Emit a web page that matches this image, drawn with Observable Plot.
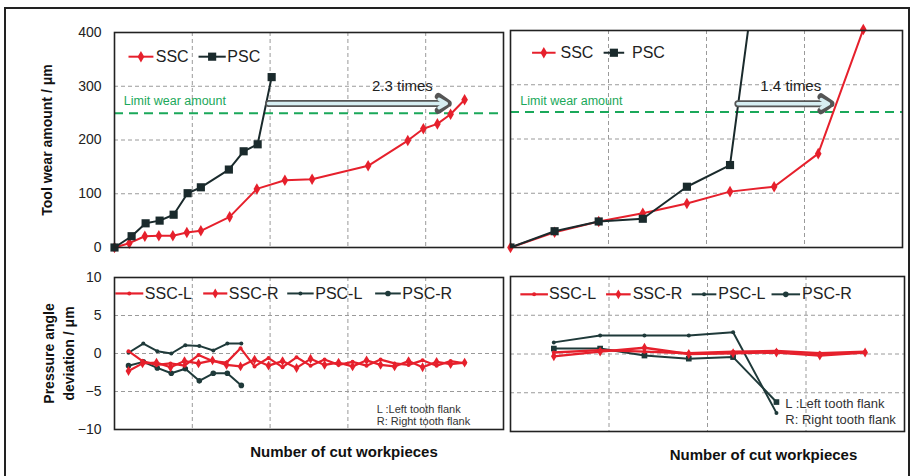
<!DOCTYPE html>
<html><head><meta charset="utf-8">
<script src="https://cdn.jsdelivr.net/npm/d3@7"></script>
<script src="https://cdn.jsdelivr.net/npm/@observablehq/plot@0.6"></script>
<style>
body{margin:0;background:#fff;}
#wrap{position:relative;width:913px;height:476px;overflow:hidden;background:#fff;font-family:"Liberation Sans",Arial,sans-serif;}
#wrap svg{position:absolute;overflow:visible;}
#outer{position:absolute;left:4px;top:7px;width:902px;height:480px;border:2px solid #222;}
</style></head><body><div id="wrap"><div id="outer"></div></div>
<script>
// ---------- data ----------
const topSeries = ["SSC", "PSC"];
const bottomSeries = ["SSC-L", "SSC-R", "PSC-L", "PSC-R"];
const wearTicks = [0, 100, 200, 300, 400];
const devTicks = [-10, -5, 0, 5, 10];
const limitWear = 250;
const limitLabel = "Limit wear amount";
const leftRatio = "2.3 times";
const rightRatio = "1.4 times";
const yLabelTop = "Tool wear amount / μm";
const yLabelBottom = "Pressure angle\ndeviation / μm";
const xLabel = "Number of cut workpieces";
const flankNotes = ["L :Left tooth flank", "R: Right tooth flank"];

// top-left (wear)
const tlSSCx = [0, 1.9, 3.9, 5.7, 7.5, 9.3, 11.1, 14.8, 18.3, 21.9, 25.4, 32.6, 37.7, 39.7, 41.5, 43.2, 45.0];
const tlSSCy = [0, 8, 21, 22, 22, 28, 31, 57, 109, 125, 127, 152, 199, 221, 230, 248, 275];
const tlPSCx = [0, 2.2, 4.0, 5.8, 7.6, 9.4, 11.1, 14.7, 16.6, 18.4, 20.2];
const tlPSCy = [0, 21, 45, 50, 61, 101, 112, 145, 179, 192, 317];

// top-right (wear)
const trSSCx = [0, 4.5, 9.0, 13.5, 18.0, 22.4, 26.9, 31.4, 36.0];
const trSSCy = [0, 28, 48, 63, 81, 103, 112, 173, 402];
const trPSCx = [0, 4.5, 9.0, 13.5, 18.0, 22.4, 26.9];
const trPSCy = [0, 30, 48, 53, 112, 152, 760];

// bottom-left (pressure angle deviation)
const blSSCx = [1.8, 3.6, 5.4, 7.2, 9.0, 10.8, 12.6, 14.4, 16.2, 18.0, 19.8, 21.6, 23.4, 25.2, 27.0, 28.8, 30.6, 32.4, 34.2, 36.0, 37.8, 39.6, 41.4, 43.2, 45.0];
const blSSCL = [0.3, -1.0, -1.5, -1.3, -1.6, -0.2, -1.0, -1.2, 0.7, -1.7, -0.6, -1.8, -0.5, -1.6, -0.8, -1.5, -1.1, -1.6, -0.8, -1.3, -1.5, -0.9, -1.6, -1.0, -1.3];
const blSSCR = [-2.3, -1.3, -1.2, -1.8, -1.0, -1.3, -0.9, -1.5, -1.7, -0.8, -1.6, -1.0, -1.9, -0.7, -1.5, -1.2, -1.7, -0.9, -1.5, -1.7, -1.0, -1.8, -1.1, -1.4, -1.2];
const blPSCx = [1.8, 3.7, 5.5, 7.3, 9.1, 10.9, 12.7, 14.5, 16.3];
const blPSCL = [0.1, 1.3, 0.3, 0.0, 1.1, 1.0, 0.4, 1.3, 1.3];
const blPSCR = [-1.6, -1.1, -1.9, -2.6, -2.0, -3.6, -2.6, -2.6, -4.2];

// bottom-right (pressure angle deviation)
const brSSCx = [4.4, 9.1, 13.6, 18.1, 22.6, 27.0, 31.4, 36.0];
const brSSCL = [0.2, 0.5, 0.3, 0.1, 0.3, 0.4, 0.1, 0.3];
const brSSCR = [-0.3, 0.3, 0.8, 0.0, 0.1, 0.2, -0.2, 0.2];
const brPSCx = [4.4, 9.1, 13.6, 18.1, 22.6, 27.0];
const brPSCL = [1.5, 2.4, 2.4, 2.4, 2.8, -7.6];
const brPSCR = [0.7, 0.7, -0.2, -0.6, -0.4, -6.2];

// ---------- styles ----------
const RED = "#e6202c", DARK = "#1a2a2c", DARK2 = "#1f3a3a", GREEN = "#1aa85a", GRID = "#9a9a9a";
const zip = (xs, ys) => xs.map((x, i) => ({x, y: ys[i]}));
const baseStyle = {background: "transparent", overflow: "visible", fontFamily: "'Liberation Sans', Arial, sans-serif", fontSize: "14px", color: "#222"};
const frame = () => Plot.frame({stroke: "#222", strokeWidth: 1.6});
const grid = (xs, ys) => [
  Plot.gridX(xs, {stroke: GRID, strokeOpacity: 1, strokeDasharray: "4,3"}),
  Plot.gridY(ys, {stroke: GRID, strokeOpacity: 1, strokeDasharray: "4,3"})
];
function hollowArrow(x1, x2, y) {
  return [
    Plot.arrow([0], {x1, x2, y1: y, y2: y, stroke: "#555", strokeWidth: 7, headLength: 2.6, headAngle: 70}),
    Plot.arrow([0], {x1, x2: x2 - 0.25, y1: y, y2: y, stroke: "#d6eef2", strokeWidth: 3.5, headLength: 3.6, headAngle: 60})
  ];
}
function legendItem(label, x1, x2, xt, y, color, sw, symbol, r) {
  return [
    Plot.link([0], {x1, x2, y1: y, y2: y, stroke: color, strokeWidth: sw}),
    Plot.dot([0], {x: (x1 + x2) / 2, y, symbol, r, fill: color}),
    Plot.text([label], {x: xt, y, textAnchor: "start", fontSize: 16, fill: "#222"})
  ];
}

const wrap = document.getElementById("wrap");
function place(svg, left, top) {
  svg.style.left = left + "px";
  svg.style.top = top + "px";
  wrap.appendChild(svg);
}

// ---------- top-left ----------
const tlS = zip(tlSSCx, tlSSCy), tlP = zip(tlPSCx, tlPSCy);
place(Plot.plot({
  width: 507, height: 262, marginLeft: 114, marginRight: 4, marginTop: 32, marginBottom: 15,
  style: baseStyle,
  x: {domain: [0, 50], axis: null},
  y: {domain: [0, 400], ticks: wearTicks, tickSize: 0, tickPadding: 13, label: null},
  marks: [
    ...grid([10, 20, 30, 40], [100, 200, 300]),
    Plot.ruleY([limitWear], {stroke: GREEN, strokeWidth: 2, strokeDasharray: "9,6"}),
    Plot.text([limitLabel], {x: 1.2, y: 272, textAnchor: "start", fill: GREEN, fontSize: 12.5}),
    Plot.line(tlS, {x: "x", y: "y", stroke: RED, strokeWidth: 2}),
    Plot.dot(tlS, {x: "x", y: "y", symbol: "diamond", r: 3.5, fill: RED}),
    Plot.line(tlP, {x: "x", y: "y", stroke: DARK, strokeWidth: 2}),
    Plot.dot(tlP, {x: "x", y: "y", symbol: "square", r: 4.6, fill: DARK}),
    ...hollowArrow(19.8, 42.9, 268),
    Plot.text([leftRatio], {x: 37, y: 300, fontSize: 15, fill: "#222"}),
    ...legendItem(topSeries[0], 1.8, 5.0, 5.3, 355, RED, 2, "diamond", 3.5),
    ...legendItem(topSeries[1], 10.8, 14.3, 14.5, 355, DARK, 2, "square", 4.6),
    Plot.text([yLabelTop], {frameAnchor: "left", rotate: -90, dx: -67, textAnchor: "middle", fontWeight: "bold", fontSize: 14, fill: "#111"}),
    frame()
  ]
}), 0, 0);

// ---------- top-right ----------
const trS = zip(trSSCx, trSSCy), trP = zip(trPSCx, trPSCy);
place(Plot.plot({
  width: 400, height: 262, marginLeft: 5, marginRight: 3, marginTop: 30, marginBottom: 15,
  style: baseStyle,
  x: {domain: [0, 40], axis: null},
  y: {domain: [0, 400], axis: null},
  marks: [
    ...grid([10, 20, 30], [100, 200, 300]),
    Plot.ruleY([limitWear], {stroke: GREEN, strokeWidth: 2, strokeDasharray: "9,6"}),
    Plot.text([limitLabel], {x: 1.0, y: 270, textAnchor: "start", fill: GREEN, fontSize: 12.5}),
    Plot.line(trS, {x: "x", y: "y", stroke: RED, strokeWidth: 2}),
    Plot.dot(trS, {x: "x", y: "y", symbol: "diamond", r: 3.5, fill: RED}),
    Plot.line(trP, {x: "x", y: "y", stroke: DARK, strokeWidth: 2, clip: true}),
    Plot.dot(trP, {x: "x", y: "y", symbol: "square", r: 4.6, fill: DARK, clip: true}),
    ...hollowArrow(23.2, 32.7, 265),
    Plot.text([rightRatio], {x: 28.6, y: 297, fontSize: 15, fill: "#222"}),
    ...legendItem(topSeries[0], 2.2, 4.6, 5.1, 359, RED, 2, "diamond", 3.5),
    ...legendItem(topSeries[1], 9.5, 11.6, 12.4, 359, DARK, 2, "square", 4.6),
    frame()
  ]
}), 505, 0);

// ---------- bottom-left ----------
const blL = zip(blSSCx, blSSCL), blR = zip(blSSCx, blSSCR);
const blPL = zip(blPSCx, blPSCL), blPR = zip(blPSCx, blPSCR);
place(Plot.plot({
  width: 507, height: 214, marginLeft: 114, marginRight: 4, marginTop: 15, marginBottom: 47,
  style: baseStyle,
  x: {domain: [0, 50], axis: null},
  y: {domain: [-10, 10], ticks: devTicks, tickSize: 0, tickPadding: 13, label: null},
  marks: [
    ...grid([10, 20, 30, 40], [-5, 0, 5]),
    Plot.line(blPL, {x: "x", y: "y", stroke: DARK2, strokeWidth: 2}),
    Plot.dot(blPL, {x: "x", y: "y", r: 2, fill: DARK2}),
    Plot.line(blPR, {x: "x", y: "y", stroke: DARK2, strokeWidth: 2}),
    Plot.dot(blPR, {x: "x", y: "y", r: 2.8, fill: DARK2}),
    Plot.line(blL, {x: "x", y: "y", stroke: RED, strokeWidth: 2.2}),
    Plot.dot(blL, {x: "x", y: "y", r: 2, fill: RED}),
    Plot.line(blR, {x: "x", y: "y", stroke: RED, strokeWidth: 2.2}),
    Plot.dot(blR, {x: "x", y: "y", symbol: "diamond", r: 3, fill: RED}),
    ...legendItem(bottomSeries[0], 0.1, 3.7, 3.9, 7.9, RED, 2.2, "circle", 2),
    ...legendItem(bottomSeries[1], 11.4, 14.5, 14.7, 7.9, RED, 2.2, "diamond", 3),
    ...legendItem(bottomSeries[2], 22.2, 25.6, 25.8, 7.9, DARK2, 2, "circle", 2),
    ...legendItem(bottomSeries[3], 33.5, 36.8, 37.0, 7.9, DARK2, 2, "circle", 2.8),
    Plot.text([flankNotes[0]], {x: 33.7, y: -7.3, textAnchor: "start", lineAnchor: "middle", fontSize: 11, fill: "#333"}),
    Plot.text([flankNotes[1]], {x: 33.7, y: -8.95, textAnchor: "start", lineAnchor: "middle", fontSize: 11, fill: "#333"}),
    Plot.text([yLabelBottom], {frameAnchor: "left", rotate: -90, dx: -57, textAnchor: "middle", lineAnchor: "middle", lineHeight: 1.4, fontWeight: "bold", fontSize: 14, fill: "#111"}),
    Plot.text([xLabel], {frameAnchor: "bottom", dy: 23, dx: 35, lineAnchor: "middle", fontWeight: "bold", fontSize: 15, fill: "#111"}),
    frame()
  ]
}), 0, 262);

// ---------- bottom-right ----------
const brL = zip(brSSCx, brSSCL), brR = zip(brSSCx, brSSCR);
const brPL = zip(brPSCx, brPSCL), brPR = zip(brPSCx, brPSCR);
place(Plot.plot({
  width: 400, height: 214, marginLeft: 5, marginRight: 1, marginTop: 14, marginBottom: 45,
  style: baseStyle,
  x: {domain: [0, 40], axis: null},
  y: {domain: [-10, 10], axis: null},
  marks: [
    ...grid([10, 20, 30], [-5, 0, 5]),
    Plot.line(brPL, {x: "x", y: "y", stroke: DARK2, strokeWidth: 2}),
    Plot.dot(brPL, {x: "x", y: "y", r: 2, fill: DARK2}),
    Plot.line(brPR, {x: "x", y: "y", stroke: DARK2, strokeWidth: 2}),
    Plot.dot(brPR, {x: "x", y: "y", symbol: "square", r: 3.2, fill: DARK2}),
    Plot.line(brL, {x: "x", y: "y", stroke: RED, strokeWidth: 2.4}),
    Plot.dot(brL, {x: "x", y: "y", r: 2, fill: RED}),
    Plot.line(brR, {x: "x", y: "y", stroke: RED, strokeWidth: 2.4}),
    Plot.dot(brR, {x: "x", y: "y", symbol: "diamond", r: 3, fill: RED}),
    ...legendItem(bottomSeries[0], 1.0, 3.8, 3.9, 7.7, RED, 2.2, "circle", 2),
    ...legendItem(bottomSeries[1], 9.7, 12.2, 12.4, 7.7, RED, 2.2, "diamond", 3),
    ...legendItem(bottomSeries[2], 18.4, 20.9, 21.1, 7.7, DARK2, 2, "circle", 2),
    ...legendItem(bottomSeries[3], 26.5, 29.4, 29.6, 7.7, DARK2, 2, "circle", 2.8),
    Plot.text([flankNotes.join("\n")], {x: 27.9, y: -7.3, textAnchor: "start", lineAnchor: "middle", lineHeight: 1.25, fontSize: 13, fill: "#333"}),
    Plot.text([xLabel], {frameAnchor: "bottom", dy: 24, dx: 56, lineAnchor: "middle", fontWeight: "bold", fontSize: 15, fill: "#111"}),
    frame()
  ]
}), 505, 262);
</script>
</body></html>
